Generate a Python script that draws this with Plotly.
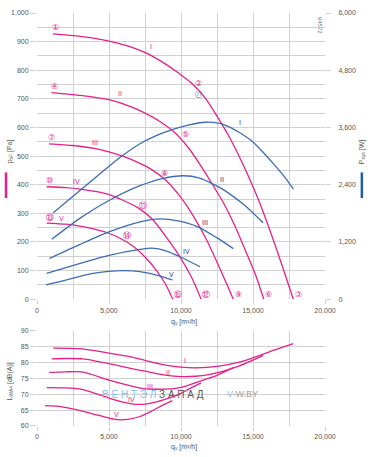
import plotly.graph_objects as go

# ---------------- data ----------------
# static pressure curves p_sF [Pa] vs q_v [m3/h]
q_p1 = [1100, 3000, 5000, 6500, 7600, 8660, 9700, 10800, 11700, 12500, 13300, 14200, 15400, 16600, 17800]
p_p1 = [927, 918, 902, 882, 860, 830, 795, 752, 702, 640, 572, 482, 345, 180, 0]
q_p2 = [1000, 3000, 5000, 6500, 7500, 8500, 9500, 10500, 11300, 12200, 13000, 13800, 14600, 15200, 15750]
p_p2 = [722, 712, 697, 673, 650, 622, 585, 530, 472, 400, 332, 250, 155, 82, 0]
q_p3 = [830, 2500, 4000, 5000, 6000, 7000, 8000, 9000, 10000, 10900, 11800, 12700, 13630]
p_p3 = [543, 537, 527, 515, 499, 478, 452, 413, 355, 287, 205, 107, 0]
q_p4 = [670, 2000, 3000, 4000, 4850, 6000, 7000, 8000, 9000, 9900, 10700, 11400]
p_p4 = [393, 390, 385, 377, 368, 345, 320, 280, 215, 150, 80, 0]
q_p5 = [670, 2000, 3000, 4000, 4800, 5800, 6700, 7600, 8300, 8900, 9430]
p_p5 = [266, 262, 255, 245, 234, 212, 184, 142, 100, 55, 0]

# power curves P_sys [W]
q_w1 = [1130, 3000, 4500, 5800, 7150, 8200, 9240, 10500, 11700, 12600, 13300, 14200, 14900, 15700, 16500, 17200, 17800]
w_w1 = [1810, 2285, 2660, 2980, 3260, 3420, 3540, 3650, 3710, 3690, 3620, 3470, 3320, 3080, 2810, 2560, 2310]
q_w2 = [1020, 3000, 5000, 7150, 8700, 10160, 11300, 12360, 13050, 14440, 15700]
w_w2 = [1256, 1700, 2070, 2380, 2530, 2588, 2540, 2392, 2276, 1963, 1602]
q_w3 = [850, 3000, 5000, 7150, 8540, 9800, 11200, 12480, 13630]
w_w3 = [853, 1150, 1410, 1620, 1685, 1640, 1512, 1290, 1061]
q_w4 = [670, 3000, 5000, 7150, 8000, 9000, 9930, 11320]
w_w4 = [541, 750, 920, 1045, 1070, 1010, 890, 680]
q_w5 = [620, 2000, 3000, 4000, 5000, 6000, 7150, 8500, 9400]
w_w5 = [300, 400, 480, 545, 585, 600, 578, 490, 403]

# sound power L_WA4 [dB(A)]
q_s1 = [1130, 3000, 5000, 6500, 7500, 8500, 9500, 10500, 11500, 12500, 13500, 14500, 15500, 16500, 17800]
l_s1 = [84.6, 84.4, 83.0, 81.8, 80.7, 79.6, 78.8, 78.4, 78.4, 78.8, 79.6, 80.7, 82.3, 84.0, 86.0]
q_s2 = [1020, 2000, 3200, 5000, 6500, 7500, 9000, 10000, 11000, 12000, 13000, 14000, 15000, 15700]
l_s2 = [81.2, 81.3, 81.2, 79.7, 78.2, 77.3, 76.0, 75.6, 75.7, 76.3, 77.4, 78.9, 80.8, 82.3]
q_s3 = [850, 2000, 3200, 5000, 6500, 7400, 8300, 9300, 10000, 10600, 11500, 12500, 13630]
l_s3 = [76.9, 77.1, 77.0, 74.5, 72.7, 71.8, 71.6, 71.7, 72.2, 73.0, 74.4, 76.0, 78.4]
q_s4 = [670, 2000, 3200, 5000, 6000, 6700, 7500, 8300, 9300, 10000, 10600, 11400]
l_s4 = [72.1, 72.0, 71.5, 68.8, 67.5, 66.9, 66.9, 67.6, 69.0, 70.3, 71.8, 73.6]
q_s5 = [560, 1500, 2800, 4000, 5000, 5600, 6300, 7150, 8000, 8700, 9400]
l_s5 = [66.4, 66.2, 65.1, 63.7, 62.5, 62.0, 62.1, 63.0, 64.8, 66.5, 68.0]

speed_names = ["I", "II", "III", "IV", "V"]
start_marks = ["①", "④", "⑦", "⑩", "⑬"]
mid_marks = ["②", "⑤", "⑧", "⑪", "⑭"]
end_marks = ["③", "⑥", "⑨", "⑫", "⑮"]
# label positions (q, p) for mid operating-point marks
mid_q = [11200, 10280, 8840, 7380, 6270]
mid_p = [752, 575, 440, 327, 224]
# pink speed labels on pressure curves
pname_q = [7920, 5760, 4030, 2760, 1720]
pname_p = [882, 720, 549, 410, 281]
# blue speed labels on power curves
wname_q = [14100, 12830, 11670, 10380, 9320]
wname_w = [3711, 2517, 1616, 992, 518]
# pink speed labels on sound curves
sname_q = [10280, 9120, 7850, 6580, 5540]
sname_l = [80.6, 77.0, 72.6, 68.4, 63.5]

x_ticks = [0, 5000, 10000, 15000, 20000]

PINK = "#E5208A"
BLUE = "#3C6DB4"
NAVY = "#2B3A8F"
GRID = "#D0D0D0"
TXT = "#555555"
FONT = "Liberation Sans, Arial, sans-serif"

pq = [q_p1, q_p2, q_p3, q_p4, q_p5]
pp = [p_p1, p_p2, p_p3, p_p4, p_p5]
wq = [q_w1, q_w2, q_w3, q_w4, q_w5]
ww = [w_w1, w_w2, w_w3, w_w4, w_w5]
sq = [q_s1, q_s2, q_s3, q_s4, q_s5]
sl = [l_s1, l_s2, l_s3, l_s4, l_s5]

fig = go.Figure()
line_kw = dict(shape="spline", smoothing=0.7, width=1.3)
for q, w in zip(wq, ww):
    fig.add_trace(go.Scatter(x=q, y=w, mode="lines", line=dict(color=BLUE, **line_kw),
                             xaxis="x", yaxis="y2", hoverinfo="skip", showlegend=False))
for q, p in zip(pq, pp):
    fig.add_trace(go.Scatter(x=q, y=p, mode="lines", line=dict(color=PINK, **line_kw),
                             xaxis="x", yaxis="y", hoverinfo="skip", showlegend=False))
for q, l in zip(sq, sl):
    fig.add_trace(go.Scatter(x=q, y=l, mode="lines", line=dict(color=PINK, **line_kw),
                             xaxis="x2", yaxis="y3", hoverinfo="skip", showlegend=False))

ann = []
def A(**k):
    base = dict(showarrow=False, xanchor="center", yanchor="middle",
                font=dict(family=FONT, size=8, color=PINK))
    base.update(k)
    ann.append(base)

for i in range(5):
    A(x=pq[i][0], y=pp[i][0], xref="x", yref="y", text=start_marks[i], xshift=3, yshift=6,
      font=dict(family="DejaVu Sans", size=8, color=PINK))
    A(x=pq[i][-1], y=pp[i][-1], xref="x", yref="y", text=end_marks[i], xshift=5, yshift=5,
      font=dict(family="DejaVu Sans", size=8, color=PINK))
    A(x=mid_q[i], y=mid_p[i], xref="x", yref="y", text=mid_marks[i],
      font=dict(family="DejaVu Sans", size=8, color=PINK))
    A(x=pname_q[i], y=pname_p[i], xref="x", yref="y", text=speed_names[i],
      font=dict(family=FONT, size=7, color=PINK))
    A(x=wname_q[i], y=wname_w[i], xref="x", yref="y2", text=speed_names[i],
      font=dict(family=FONT, size=7, color=NAVY))
    A(x=sname_q[i], y=sname_l[i], xref="x2", yref="y3", text=speed_names[i],
      font=dict(family=FONT, size=7, color=PINK))

# gray operating point mark
A(x=11270, y=714, xref="x", yref="y", text="ⓝ", font=dict(family="DejaVu Sans", size=8, color="#777777"))

# axis titles
A(x=-0.094, y=0.665, xref="paper", yref="paper", text="p<sub>sF</sub> [Pa]", textangle=-90,
  font=dict(family=FONT, size=7, color=TXT))
A(x=1.128, y=0.665, xref="paper", yref="paper", text="P<sub>sys</sub> [W]", textangle=-90,
  font=dict(family=FONT, size=7, color=TXT))
A(x=-0.094, y=0.108, xref="paper", yref="paper", text="L<sub>WA4</sub> [dB(A)]", textangle=-90,
  font=dict(family=FONT, size=7, color=TXT))
A(x=0.51, y=0.252, xref="paper", yref="paper", text="q<sub>v</sub> [m³/h]",
  font=dict(family=FONT, size=7, color=TXT))
A(x=0.51, y=-0.05, xref="paper", yref="paper", text="q<sub>v</sub> [m³/h]",
  font=dict(family=FONT, size=7, color=TXT))
A(x=0.983, y=0.971, xref="paper", yref="paper", text="94572", textangle=90,
  font=dict(family=FONT, size=6, color="#777777"))

# watermark
A(x=0.219, y=0.077, xref="paper", yref="paper", xanchor="left",
  text="<span style='color:#7FC2EA'>В Е Н Т Э Л </span><span style='color:#5A5A5A'>З А П А Д</span>",
  font=dict(family=FONT, size=10, color="#5A5A5A"))
A(x=0.653, y=0.077, xref="paper", yref="paper", xanchor="left",
  text="<span style='color:#7FC2EA'>V</span><span style='color:#A0A0A0'>-W.BY</span>",
  font=dict(family=FONT, size=9, color="#A0A0A0"))

shapes = [
    dict(type="line", xref="paper", yref="paper", x0=-0.1076, x1=-0.1076, y0=0.552, y1=0.614,
         line=dict(color=PINK, width=2.5)),
    dict(type="line", xref="paper", yref="paper", x0=1.128, x1=1.128, y0=0.552, y1=0.614,
         line=dict(color="#1F5CAA", width=2.5)),
]

tickfont = dict(family=FONT, size=7, color=TXT)
xax = dict(range=[0, 20000], tickvals=x_ticks, tickformat=",", showgrid=True, gridcolor=GRID, gridwidth=1,
           minor=dict(dtick=2500, tick0=0, showgrid=True, gridcolor=GRID, gridwidth=1),
           ticks="outside", ticklen=4, tickcolor=GRID, zeroline=False, showline=False, tickfont=tickfont,
           fixedrange=True)

fig.update_layout(
    width=372, height=457,
    margin=dict(l=37, r=47, t=9, b=31),
    paper_bgcolor="white", plot_bgcolor="white",
    showlegend=False,
    xaxis=dict(domain=[0, 1], anchor="y", **xax),
    xaxis2=dict(domain=[0, 1], anchor="y3", **xax),
    yaxis=dict(domain=[0.307, 1], range=[0, 1000], dtick=100, tickformat=",", showgrid=True,
               gridcolor=GRID, minor=dict(dtick=50, showgrid=True, gridcolor=GRID),
               ticks="outside", ticklen=6, tickcolor=GRID, zeroline=False, tickfont=tickfont),
    yaxis2=dict(overlaying="y", side="right", anchor="x", range=[0, 6000], dtick=1200, tickformat=",",
                showgrid=False, ticks="outside", ticklen=5, tickcolor=GRID, zeroline=False,
                tickfont=tickfont, ticklabelstandoff=6),
    yaxis3=dict(domain=[0, 0.2302], anchor="x2", range=[60, 90], dtick=5, showgrid=True, gridcolor=GRID,
                ticks="outside", ticklen=6, tickcolor=GRID, zeroline=False, tickfont=tickfont),
    annotations=ann,
    shapes=shapes,
)

# remove the default page margin so the figure sits at the window's top-left corner
fig.write_html("out.html", config={"displayModeBar": False, "staticPlot": True},
               post_script="document.body.style.margin='0';")
